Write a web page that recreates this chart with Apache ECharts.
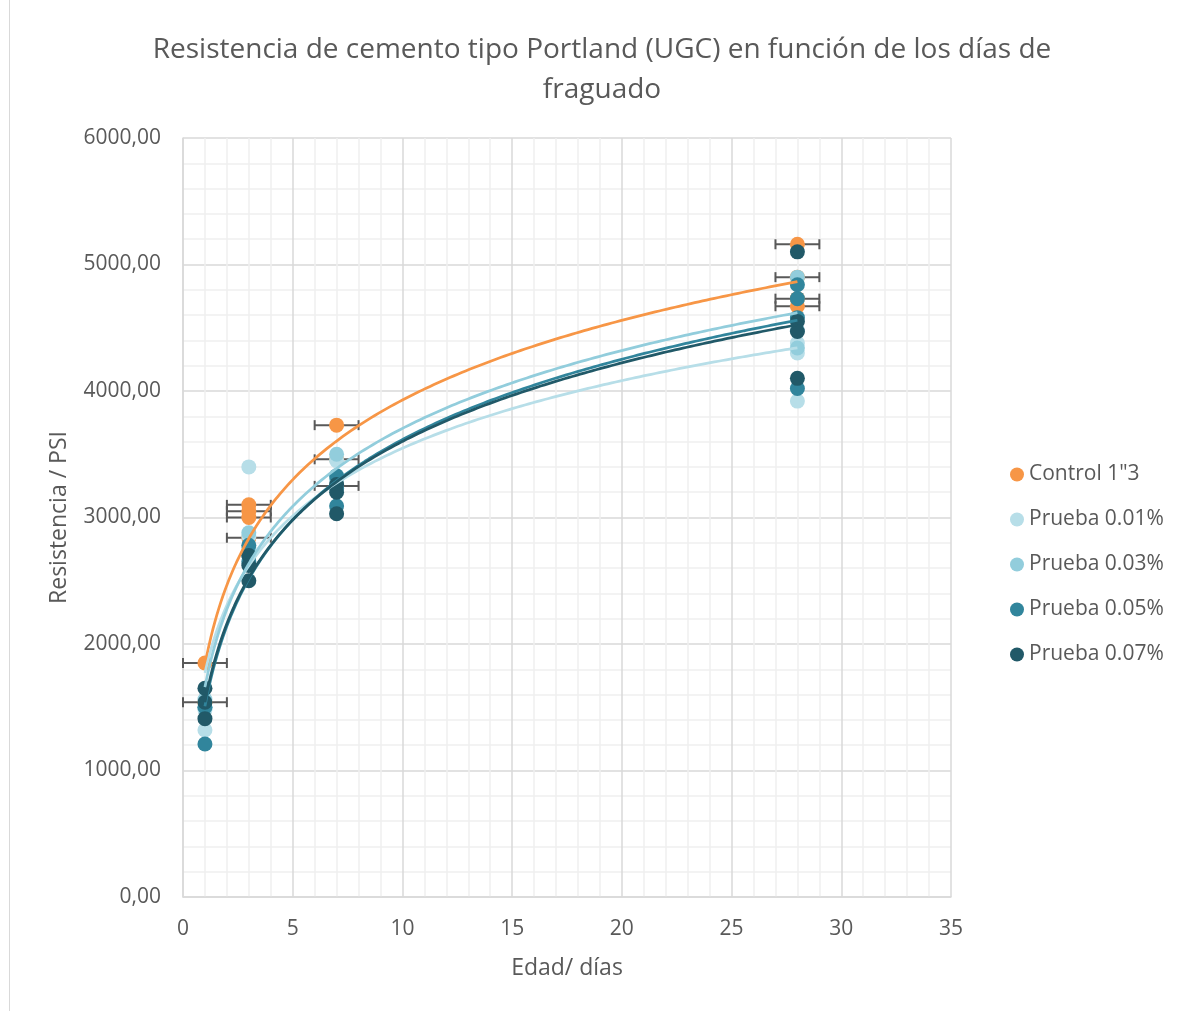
<!DOCTYPE html>
<html><head><meta charset="utf-8">
<script src="https://cdn.jsdelivr.net/npm/echarts@6/dist/echarts.min.js"></script>
<style>
html,body{margin:0;padding:0;background:#fff;overflow:hidden;}
#frame{position:absolute;left:9px;top:-1px;width:1200px;height:1030px;border:1px solid #D9D9D9;box-sizing:border-box;}
#chart{position:absolute;left:0;top:0;width:1186px;height:1011px;}
</style>
</head><body><div id="frame"></div><div id="chart"></div>
<script>
// ---- data ----
const seriesNames = ['Control 1"3', 'Prueba 0.01%', 'Prueba 0.03%', 'Prueba 0.05%', 'Prueba 0.07%'];
const seriesColors = ['#F79646', '#B7DEE8', '#92CDDC', '#31859C', '#215968'];

const controlX = [1, 1, 3, 3, 3, 3, 7, 7, 7, 28, 28, 28, 28];
const controlY = [1850, 1540, 3100, 3050, 3000, 2840, 3730, 3460, 3250, 5160, 4900, 4730, 4670];

const p001X = [1, 1, 3, 3, 7, 7, 28, 28, 28];
const p001Y = [1320, 1480, 3400, 2850, 3450, 3250, 4300, 3920, 4380];

const p003X = [1, 1, 3, 3, 7, 7, 28, 28, 28];
const p003Y = [1500, 1560, 2880, 2760, 3500, 3300, 4900, 4340, 4480];

const p005X = [1, 1, 3, 3, 3, 7, 7, 7, 28, 28, 28, 28];
const p005Y = [1210, 1500, 2780, 2700, 2650, 3330, 3090, 3230, 4840, 4730, 4020, 4580];

const p007X = [1, 1, 1, 3, 3, 3, 7, 7, 7, 28, 28, 28, 28];
const p007Y = [1650, 1410, 1540, 2700, 2620, 2500, 3260, 3030, 3200, 5100, 4550, 4470, 4100];

// horizontal error bar half-width (days), applied to the control series
const controlXError = 1;

const xTicks = [0, 5, 10, 15, 20, 25, 30, 35];
const yTicks = [0, 1000, 2000, 3000, 4000, 5000, 6000];

// ---- helpers ----
const allX = [controlX, p001X, p003X, p005X, p007X];
const allY = [controlY, p001Y, p003Y, p005Y, p007Y];

function pairs(xs, ys) { return xs.map((x, i) => [x, ys[i]]); }

// least-squares logarithmic trendline y = a ln(x) + b, fitted to the data
function logFit(xs, ys) {
  const L = xs.map(Math.log);
  const n = xs.length;
  const lm = L.reduce((s, v) => s + v, 0) / n;
  const ym = ys.reduce((s, v) => s + v, 0) / n;
  let sxy = 0, sxx = 0;
  for (let i = 0; i < n; i++) { sxy += (L[i] - lm) * (ys[i] - ym); sxx += (L[i] - lm) * (L[i] - lm); }
  const a = sxy / sxx;
  return { a: a, b: ym - a * lm };
}
function trendPoints(xs, ys) {
  const f = logFit(xs, ys);
  const lo = Math.min.apply(null, xs), hi = Math.max.apply(null, xs);
  const out = [];
  const N = 300;
  for (let i = 0; i <= N; i++) {
    const x = lo + (hi - lo) * i / N;
    out.push([x, f.a * Math.log(x) + f.b]);
  }
  return out;
}

const FONT = 'Open Sans';
const TXT = '#595959';

const series = [];
// error bars (behind markers)
series.push({
  type: 'custom',
  name: 'errbar',
  z: 1,
  silent: true,
  data: pairs(controlX, controlY),
  renderItem: function (params, api) {
    const x = api.value(0), y = api.value(1);
    const p1 = api.coord([x - controlXError, y]);
    const p2 = api.coord([x + controlXError, y]);
    const cap = 5;
    const style = { stroke: '#595959', lineWidth: 2 };
    return {
      type: 'group',
      children: [
        { type: 'line', shape: { x1: p1[0], y1: p1[1], x2: p2[0], y2: p2[1] }, style: style },
        { type: 'line', shape: { x1: p1[0], y1: p1[1] - cap, x2: p1[0], y2: p1[1] + cap }, style: style },
        { type: 'line', shape: { x1: p2[0], y1: p2[1] - cap, x2: p2[0], y2: p2[1] + cap }, style: style }
      ]
    };
  }
});
// markers
for (let k = 0; k < 5; k++) {
  series.push({
    type: 'scatter',
    name: seriesNames[k],
    z: 2,
    symbol: 'circle',
    symbolSize: 15,
    itemStyle: { color: seriesColors[k], opacity: 1 },
    emphasis: { disabled: true },
    data: pairs(allX[k], allY[k])
  });
}
// trendlines (on top)
for (let k = 0; k < 5; k++) {
  series.push({
    type: 'line',
    name: 'trend' + k,
    z: 3,
    showSymbol: false,
    symbol: 'none',
    silent: true,
    smooth: false,
    lineStyle: { color: seriesColors[k], width: 2.75 },
    data: trendPoints(allX[k], allY[k])
  });
}

const chart = echarts.init(document.getElementById('chart'), null, { renderer: 'canvas' });
chart.setOption({
  animation: false,
  backgroundColor: 'transparent',
  title: {
    text: 'Resistencia de cemento tipo Portland (UGC) en función de los días de\nfraguado',
    left: 597,
    textAlign: 'center',
    top: 25,
    textStyle: { fontFamily: FONT, fontSize: 28, fontWeight: 'normal', color: TXT, lineHeight: 40 }
  },
  legend: {
    data: seriesNames,
    orient: 'vertical',
    left: 1005,
    top: 459,
    itemGap: 24,
    itemWidth: 14,
    itemHeight: 14,
    icon: 'circle',
    textStyle: { fontFamily: FONT, fontSize: 21, color: TXT, padding: [0, 0, 0, 0] }
  },
  grid: { left: 183, top: 138, width: 768, height: 759, containLabel: false },
  xAxis: {
    type: 'value',
    min: xTicks[0],
    max: xTicks[xTicks.length - 1],
    interval: 5,
    name: 'Edad/ días',
    nameLocation: 'middle',
    nameGap: 60,
    nameTextStyle: { fontFamily: FONT, fontSize: 23, color: TXT },
    axisLine: { show: true, lineStyle: { color: '#D9D9D9', width: 1.5 } },
    axisTick: { show: false },
    axisLabel: { fontFamily: FONT, fontSize: 21, color: TXT, margin: 22 },
    splitLine: { show: true, lineStyle: { color: '#D9D9D9', width: 1.5 } },
    minorTick: { show: false, splitNumber: 5 },
    minorSplitLine: { show: true, lineStyle: { color: '#F0F0F0', width: 1.5 } }
  },
  yAxis: {
    type: 'value',
    min: yTicks[0],
    max: yTicks[yTicks.length - 1],
    interval: 1000,
    name: 'Resistencia / PSI',
    nameLocation: 'middle',
    nameGap: 112,
    nameTextStyle: { fontFamily: FONT, fontSize: 23, color: TXT },
    axisLine: { show: true, lineStyle: { color: '#D9D9D9', width: 1.5 } },
    axisTick: { show: false },
    axisLabel: {
      fontFamily: FONT, fontSize: 21, color: TXT, margin: 22,
      formatter: function (v) { return v.toFixed(2).replace('.', ','); }
    },
    splitLine: { show: true, lineStyle: { color: '#D9D9D9', width: 1.5 } },
    minorTick: { show: false, splitNumber: 5 },
    minorSplitLine: { show: true, lineStyle: { color: '#F0F0F0', width: 1.5 } }
  },
  series: series
});
</script></body></html>
